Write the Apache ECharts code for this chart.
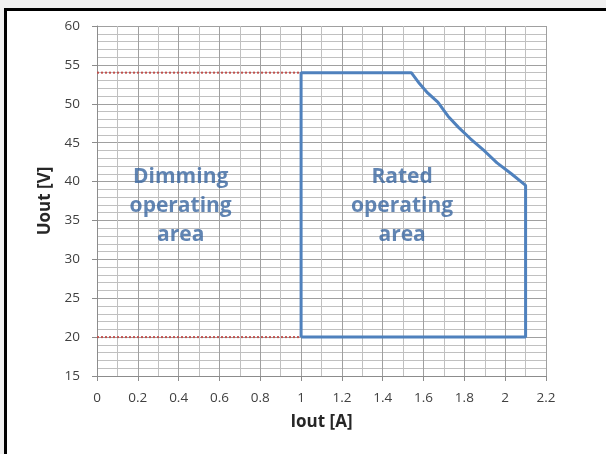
<!DOCTYPE html>
<html><head><meta charset="utf-8">
<script src="https://cdn.jsdelivr.net/npm/echarts@6/dist/echarts.min.js"></script>
<style>html,body{margin:0;padding:0;background:#f0f0f0;}#c{width:606px;height:454px;}</style>
</head><body><div id="c"></div>
<script>
// Operating envelope (Iout [A], Uout [V])
const ratedBoundary = [
  [1.0, 20], [1.0, 54], [1.54, 54], [1.58, 52.6], [1.62, 51.4], [1.67, 50.2],
  [1.72, 48.4], [1.77, 47.0], [1.83, 45.5], [1.9, 43.9], [1.96, 42.4],
  [2.03, 41.0], [2.1, 39.5], [2.1, 20], [1.0, 20]
];
const dimmingUpper = [[0, 54], [1.0, 54]];
const dimmingLower = [[0, 20], [1.0, 20]];
const areaLabels = [
  { name: 'Dimming\noperating\narea', pos: [0.41, 36.8] },
  { name: 'Rated\noperating\narea', pos: [1.495, 36.8] }
];
const xRange = [0, 2.2];
const yRange = [15, 60];

const chart = echarts.init(document.getElementById('c'));
const labelFont = 'Open Sans';
chart.setOption({
  animation: false,
  backgroundColor: 'transparent',
  graphic: [{
    type: 'rect', z: -100, silent: true,
    shape: { x: 5.5, y: 9.5, width: 640, height: 480 },
    style: { fill: '#ffffff', stroke: '#000000', lineWidth: 3 }
  }],
  grid: { left: 97, right: 60, top: 26, bottom: 78 },
  xAxis: {
    type: 'value', min: xRange[0], max: xRange[1], interval: 0.2,
    name: 'Iout [A]', nameLocation: 'middle', nameGap: 38,
    nameTextStyle: { fontFamily: labelFont, fontWeight: 'bold', fontSize: 17, color: '#262626' },
    axisLine: { show: true, lineStyle: { color: '#8c8c8c', width: 1 } },
    axisTick: { show: true, length: 5, lineStyle: { color: '#8c8c8c' } },
    axisLabel: { margin: 15, fontFamily: labelFont, fontSize: 13.5, color: '#404040' },
    splitLine: { show: true, lineStyle: { color: '#a0a0a0', width: 1 } },
    minorTick: { show: false, splitNumber: 2 },
    minorSplitLine: { show: true, lineStyle: { color: '#c0c0c0', width: 1 } }
  },
  yAxis: {
    type: 'value', min: yRange[0], max: yRange[1], interval: 5,
    name: 'Uout [V]', nameLocation: 'middle', nameGap: 42, nameRotate: 90,
    nameTextStyle: { fontFamily: labelFont, fontWeight: 'bold', fontSize: 17, color: '#262626' },
    axisLine: { show: true, lineStyle: { color: '#8c8c8c', width: 1 } },
    axisTick: { show: true, length: 5, lineStyle: { color: '#8c8c8c' } },
    axisLabel: { margin: 17, fontFamily: labelFont, fontSize: 13.5, color: '#404040' },
    splitLine: { show: true, lineStyle: { color: '#a0a0a0', width: 1 } },
    minorTick: { show: false, splitNumber: 5 },
    minorSplitLine: { show: true, lineStyle: { color: '#c0c0c0', width: 1 } }
  },
  series: [
    { type: 'line', data: dimmingUpper, symbol: 'none', z: 3,
      lineStyle: { color: '#c0504d', width: 2, type: [2, 2] } },
    { type: 'line', data: dimmingLower, symbol: 'none', z: 3,
      lineStyle: { color: '#c0504d', width: 2, type: [2, 2] } },
    { type: 'line', data: ratedBoundary, symbol: 'none', z: 4,
      lineStyle: { color: '#4f81bd', width: 3 } },
    { type: 'scatter', symbolSize: 0, z: 5,
      data: areaLabels.map(d => ({ name: d.name, value: d.pos })),
      label: { show: true, position: 'inside', formatter: p => p.name,
        fontFamily: labelFont, fontWeight: 'bold', fontSize: 21, lineHeight: 29,
        color: '#3a66a0', align: 'center', verticalAlign: 'middle' } }
  ]
});
</script></body></html>
